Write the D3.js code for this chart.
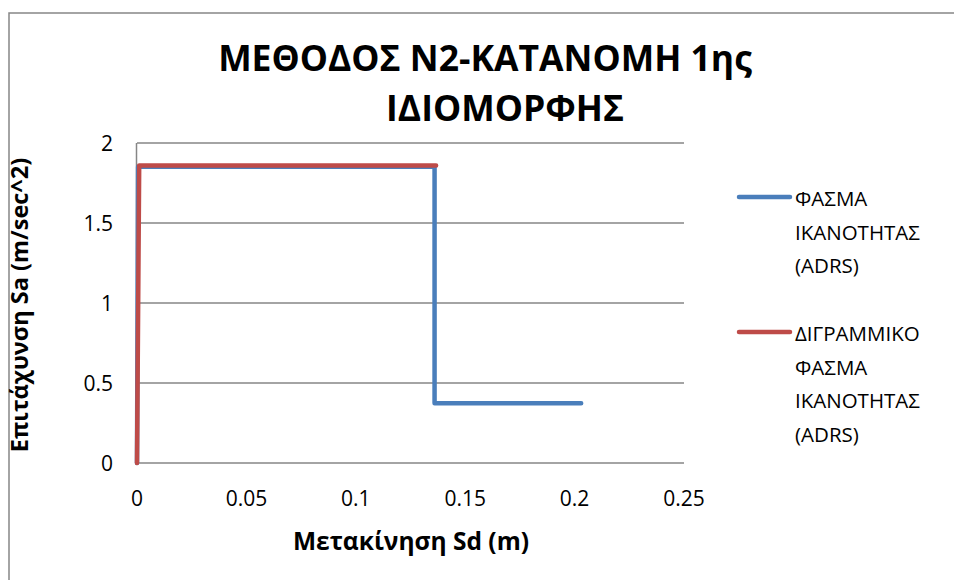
<!DOCTYPE html>
<html>
<head>
<meta charset="utf-8">
<script src="https://cdn.jsdelivr.net/npm/d3@7"></script>
<style>
  html, body { margin: 0; padding: 0; background: #fff; }
  svg { display: block; font-family: "Open Sans", "Noto Sans", sans-serif; }
</style>
</head>
<body>
<svg id="chart" width="954" height="580"></svg>
<script>
// Capacity spectrum (ADRS) and its bilinear idealisation, N2 method, 1st mode distribution
const titleLines = ["ΜΕΘΟΔΟΣ Ν2-ΚΑΤΑΝΟΜΗ 1ης", "ΙΔΙΟΜΟΡΦΗΣ"];
const xTitle = "Μετακίνηση Sd (m)";
const yTitle = "Επιτάχυνση Sa (m/sec^2)";
const xTicks = [0, 0.05, 0.1, 0.15, 0.2, 0.25];
const yTicks = [0, 0.5, 1, 1.5, 2];

const capacitySd = [0, 0.0005, 0.136, 0.136, 0.203];
const capacitySa = [0, 1.852, 1.852, 0.373, 0.373];
const bilinearSd = [0, 0.001, 0.1367];
const bilinearSa = [0, 1.86, 1.86];

const seriesNames = [
  ["ΦΑΣΜΑ", "ΙΚΑΝΟΤΗΤΑΣ", "(ADRS)"],
  ["ΔΙΓΡΑΜΜΙΚΟ", "ΦΑΣΜΑ", "ΙΚΑΝΟΤΗΤΑΣ", "(ADRS)"]
];
const seriesColors = ["#4a7ebb", "#be4b48"];

const series = [
  capacitySd.map((d, i) => ({ x: d, y: capacitySa[i] })),
  bilinearSd.map((d, i) => ({ x: d, y: bilinearSa[i] }))
];

const svg = d3.select("#chart");

// chart frame
svg.append("rect")
  .attr("x", 9).attr("y", 13)
  .attr("width", 960).attr("height", 600)
  .attr("fill", "#fff").attr("stroke", "#868686").attr("stroke-width", 1.5);

const plot = { left: 137, right: 684, top: 143, bottom: 463 };
const x = d3.scaleLinear().domain([0, 0.25]).range([plot.left, plot.right]);
const y = d3.scaleLinear().domain([0, 2]).range([plot.bottom, plot.top]);

// horizontal gridlines
svg.append("g")
  .selectAll("line").data(yTicks).join("line")
  .attr("x1", plot.left).attr("x2", plot.right)
  .attr("y1", d => y(d)).attr("y2", d => y(d))
  .attr("stroke", "#868686").attr("stroke-width", 1.5);

// vertical axis line
svg.append("line")
  .attr("x1", plot.left - 0.5).attr("x2", plot.left - 0.5)
  .attr("y1", plot.top).attr("y2", plot.bottom)
  .attr("stroke", "#868686").attr("stroke-width", 1.5);

// tick labels
svg.append("g")
  .selectAll("text").data(yTicks).join("text")
  .attr("x", 113).attr("y", d => y(d) + 7.5)
  .attr("text-anchor", "end")
  .attr("font-size", 21).attr("fill", "#000")
  .text(d => d);

svg.append("g")
  .selectAll("text").data(xTicks).join("text")
  .attr("x", d => x(d)).attr("y", 506)
  .attr("text-anchor", "middle")
  .attr("font-size", 21).attr("fill", "#000")
  .text(d => d);

// series lines
const line = d3.line().x(d => x(d.x)).y(d => y(d.y));
svg.append("g")
  .selectAll("path").data(series).join("path")
  .attr("d", line)
  .attr("fill", "none")
  .attr("stroke", (d, i) => seriesColors[i])
  .attr("stroke-width", 4.5)
  .attr("stroke-linejoin", "round")
  .attr("stroke-linecap", "round");

// title (two wrapped lines)
const titleX = [485, 505];
svg.append("g")
  .selectAll("text").data(titleLines).join("text")
  .attr("x", (d, i) => titleX[i]).attr("y", (d, i) => 71 + i * 50)
  .attr("text-anchor", "middle")
  .attr("font-size", 35.5).attr("font-weight", "bold").attr("fill", "#000")
  .text(d => d);

// axis titles
svg.append("text")
  .attr("x", 411).attr("y", 550)
  .attr("text-anchor", "middle")
  .attr("font-size", 24.5).attr("font-weight", "bold").attr("fill", "#000")
  .text(xTitle);

svg.append("text")
  .attr("transform", "translate(28,305) rotate(-90)")
  .attr("text-anchor", "middle")
  .attr("font-size", 23.5).attr("font-weight", "bold").attr("fill", "#000")
  .text(yTitle);

// legend
const legendTop = [197, 332];
const legend = svg.append("g");
seriesNames.forEach((lines, i) => {
  legend.append("line")
    .attr("x1", 739).attr("x2", 790)
    .attr("y1", legendTop[i]).attr("y2", legendTop[i])
    .attr("stroke", seriesColors[i]).attr("stroke-width", 4.5)
    .attr("stroke-linecap", "round");
  legend.append("g")
    .selectAll("text").data(lines).join("text")
    .attr("x", 795).attr("y", (d, j) => legendTop[i] + 9 + j * 33.5)
    .attr("font-size", 20.5).attr("fill", "#000")
    .text(d => d);
});
</script>
</body>
</html>
